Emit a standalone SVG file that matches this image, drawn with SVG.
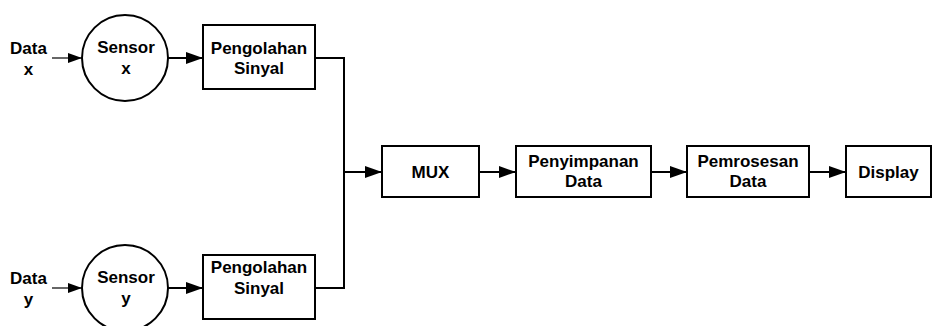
<svg xmlns="http://www.w3.org/2000/svg" width="933" height="326" viewBox="0 0 933 326">
<style>
.box{fill:#fff;stroke:#000;stroke-width:2}
.t{font-family:"Liberation Sans",Arial,sans-serif;font-weight:bold;font-size:17px;fill:#000;text-anchor:middle}
.w{fill:none;stroke:#000;stroke-width:2}
.thin{fill:none;stroke:#000;stroke-width:1.2}
</style>
<defs>
<marker id="ah" markerUnits="userSpaceOnUse" markerWidth="18" markerHeight="12" refX="17" refY="6" orient="auto"><path d="M0,0 L17,6 L0,12 z" fill="#000"/></marker>
<marker id="ahs" markerUnits="userSpaceOnUse" markerWidth="14" markerHeight="10" refX="14" refY="5" orient="auto"><path d="M0,0 L14,5 L0,10 z" fill="#000"/></marker>
</defs>
<g id="connectors">
<line class="thin" x1="52" y1="58" x2="82" y2="58" marker-end="url(#ahs)"/>
<line class="thin" x1="52" y1="288" x2="82" y2="288" marker-end="url(#ahs)"/>
<line class="w" x1="168" y1="58" x2="203" y2="58" marker-end="url(#ah)"/>
<line class="w" x1="168" y1="288" x2="203" y2="288" marker-end="url(#ah)"/>
<polyline class="w" points="315,58 344,58 344,288 315,288"/>
<line class="w" x1="344" y1="172" x2="382" y2="172" marker-end="url(#ah)"/>
<line class="w" x1="479" y1="172" x2="516" y2="172" marker-end="url(#ah)"/>
<line class="w" x1="651" y1="172" x2="687" y2="172" marker-end="url(#ah)"/>
<line class="w" x1="809" y1="172" x2="846" y2="172" marker-end="url(#ah)"/>
</g>
<g id="data-x"><text class="t" x="28.5" y="54">Data</text><text class="t" x="28.5" y="75">x</text></g>
<g id="data-y"><text class="t" x="28.5" y="284">Data</text><text class="t" x="28.5" y="305">y</text></g>
<g id="sensor-x"><circle class="box" cx="125" cy="58" r="43"/><text class="t" x="126" y="53">Sensor</text><text class="t" x="126" y="74">x</text></g>
<g id="sensor-y"><circle class="box" cx="125" cy="288" r="43"/><text class="t" x="126" y="283">Sensor</text><text class="t" x="126" y="304">y</text></g>
<g id="pengolahan-x"><rect class="box" x="203" y="25" width="112" height="64"/><text class="t" x="259" y="54">Pengolahan</text><text class="t" x="259" y="74">Sinyal</text></g>
<g id="pengolahan-y"><rect class="box" x="203" y="255" width="112" height="64"/><text class="t" x="259" y="273">Pengolahan</text><text class="t" x="259" y="294">Sinyal</text></g>
<g id="mux"><rect class="box" x="382" y="146" width="97" height="51"/><text class="t" x="430.5" y="178">MUX</text></g>
<g id="penyimpanan"><rect class="box" x="516" y="146" width="135" height="51"/><text class="t" x="583.5" y="167">Penyimpanan</text><text class="t" x="583.5" y="187">Data</text></g>
<g id="pemrosesan"><rect class="box" x="687" y="146" width="122" height="51"/><text class="t" x="748" y="167">Pemrosesan</text><text class="t" x="748" y="187">Data</text></g>
<g id="display"><rect class="box" x="846" y="146" width="85" height="51"/><text class="t" x="888.5" y="178">Display</text></g>
</svg>
